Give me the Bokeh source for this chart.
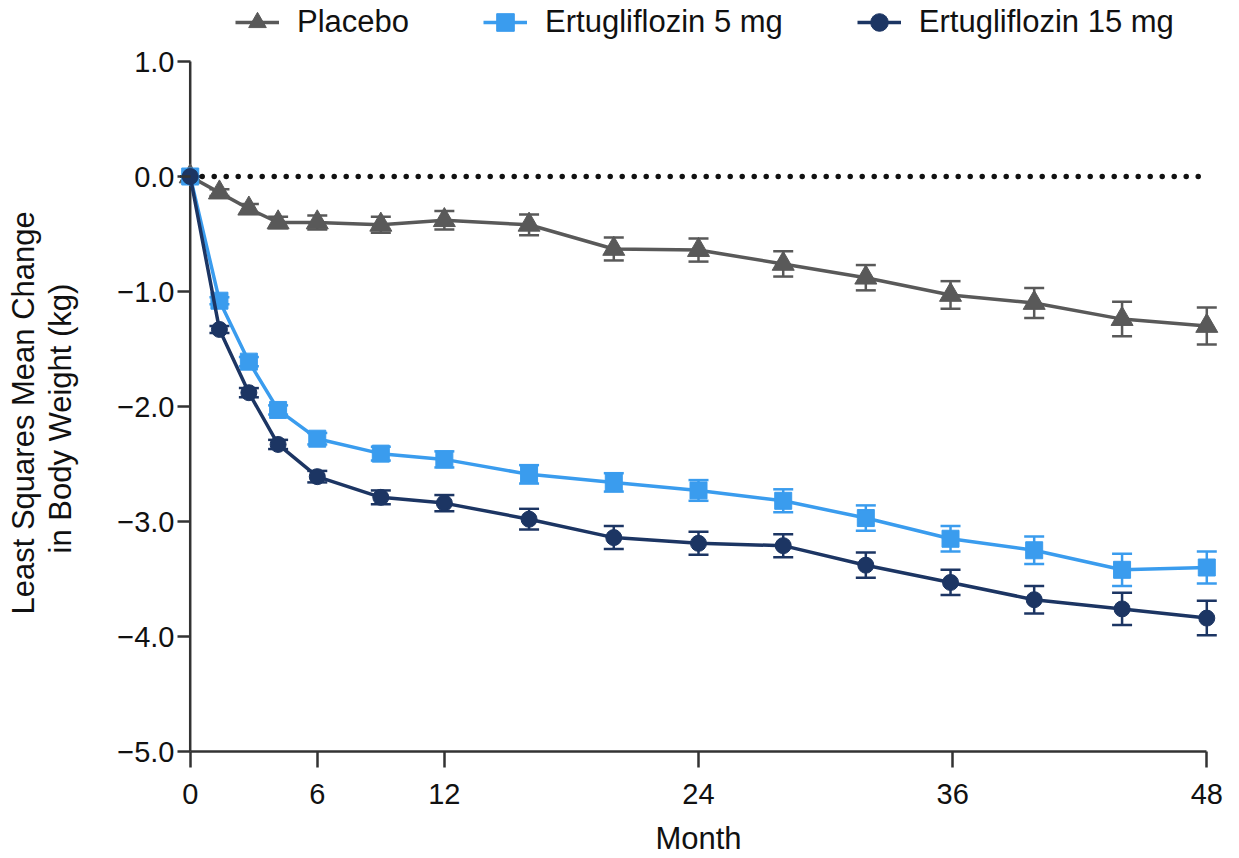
from bokeh.plotting import figure
from bokeh.models import (Range1d, FixedTicker, Whisker, TeeHead, ColumnDataSource,
                          Legend, LegendItem, Title)
from bokeh.embed import file_html
from bokeh.resources import INLINE

# ---- data ----
months = [0, 1.38, 2.77, 4.15, 6, 9, 12, 16, 20, 24, 28, 31.9, 35.9, 39.85, 44, 48]
placebo = [0, -0.14, -0.28, -0.40, -0.40, -0.42, -0.38, -0.42, -0.63, -0.64, -0.76, -0.88, -1.03, -1.10, -1.24, -1.30]
placebo_err = [0, 0.03, 0.04, 0.05, 0.06, 0.07, 0.08, 0.09, 0.10, 0.10, 0.11, 0.11, 0.12, 0.13, 0.15, 0.16]
ertu5 = [0, -1.08, -1.61, -2.03, -2.28, -2.41, -2.46, -2.59, -2.66, -2.73, -2.82, -2.97, -3.15, -3.25, -3.42, -3.40]
ertu5_err = [0, 0.03, 0.04, 0.04, 0.05, 0.06, 0.07, 0.08, 0.08, 0.09, 0.10, 0.11, 0.11, 0.12, 0.14, 0.14]
ertu15 = [0, -1.33, -1.88, -2.33, -2.61, -2.79, -2.84, -2.98, -3.14, -3.19, -3.21, -3.38, -3.53, -3.68, -3.76, -3.84]
ertu15_err = [0, 0.03, 0.04, 0.04, 0.05, 0.06, 0.07, 0.09, 0.10, 0.10, 0.10, 0.11, 0.11, 0.12, 0.14, 0.15]

series_names = ["Placebo", "Ertugliflozin 5 mg", "Ertugliflozin 15 mg"]
series_colors = ["#595959", "#3a9cee", "#1c3563"]
series_markers = ["triangle", "square", "circle"]
series_sizes = [22, 17, 16]

x_ticks = [0, 6, 12, 24, 36, 48]
y_ticks = [-5, -4, -3, -2, -1, 0, 1]
y_tick_labels = ["\u22125.0", "\u22124.0", "\u22123.0", "\u22122.0", "\u22121.0", "0.0", "1.0"]
y_title_lines = ["Least Squares Mean Change", "in Body Weight (kg)"]
x_title = "Month"

FONT = "Liberation Sans"
AXIS_COLOR = "#333333"

# frame reaches the top of the canvas so the legend (drawn inside it) is not clipped
p = figure(width=1239, height=858, x_range=Range1d(-0.6, 48.6),
           y_range=Range1d(-5, 1 + 61 / 115),
           output_backend="svg", toolbar_location=None,
           min_border_left=177, min_border_right=20, min_border_top=0, min_border_bottom=107)
p.outline_line_color = None
p.xgrid.grid_line_color = None
p.ygrid.grid_line_color = None
p.background_fill_color = "white"
p.border_fill_color = "white"

# y axis line at month 0, spanning the axis bounds
p.segment(x0=x_ticks[0], y0=y_ticks[0], x1=x_ticks[0], y1=y_ticks[-1],
          line_color=AXIS_COLOR, line_width=2.5, level="underlay")

# zero reference line
p.line(x=[months[0], months[-1]], y=[0, 0], line_color="#111111", line_width=5.5,
       line_dash="0 12", line_cap="round")

items = []
all_y = [placebo, ertu5, ertu15]
all_err = [placebo_err, ertu5_err, ertu15_err]
for name, col, mk, sz, ys, es in zip(series_names, series_colors, series_markers,
                                      series_sizes, all_y, all_err):
    src = ColumnDataSource(dict(x=months, y=ys,
                                upper=[a + b for a, b in zip(ys, es)],
                                lower=[a - b for a, b in zip(ys, es)]))
    w = Whisker(source=src, base="x", upper="upper", lower="lower",
                line_color=col, line_width=2.5, level="underlay",
                upper_head=TeeHead(size=20, line_color=col, line_width=2.5),
                lower_head=TeeHead(size=20, line_color=col, line_width=2.5))
    p.add_layout(w)
    lr = p.line("x", "y", source=src, line_color=col, line_width=3.5)
    sr = p.scatter("x", "y", source=src, marker=mk, size=sz, fill_color=col,
                   line_color=col, line_width=1)
    items.append(LegendItem(label=name, renderers=[lr, sr]))

legend = Legend(items=items, orientation="horizontal", location=(58, 707),
                glyph_width=44, glyph_height=44, label_height=44,
                label_standoff=18, spacing=74, padding=0, margin=0,
                label_text_font=FONT, label_text_font_size="31px",
                label_text_color="#111111", background_fill_alpha=0,
                border_line_color=None)
p.add_layout(legend)

# axes
for ax in (p.xaxis, p.yaxis):
    ax.axis_line_color = AXIS_COLOR
    ax.axis_line_width = 2.5
    ax.major_tick_line_color = AXIS_COLOR
    ax.major_tick_line_width = 2.5
    ax.minor_tick_line_color = None
    ax.major_label_text_font = FONT
    ax.major_label_text_font_size = "29px"
    ax.major_label_text_color = "#111111"
    ax.axis_label_text_font = FONT
    ax.axis_label_text_font_size = "31px"
    ax.axis_label_text_font_style = "normal"
    ax.axis_label_text_color = "#111111"

p.xaxis.ticker = FixedTicker(ticks=x_ticks)
p.xaxis.bounds = (x_ticks[0], x_ticks[-1])
p.xaxis.axis_label = x_title
p.xaxis.major_tick_out = 16
p.xaxis.major_tick_in = 0
p.xaxis.major_label_standoff = 16
p.xaxis.axis_label_standoff = 14

p.yaxis.ticker = FixedTicker(ticks=y_ticks)
p.yaxis.bounds = (y_ticks[0], y_ticks[-1])
p.yaxis.major_label_overrides = {t: l for t, l in zip(y_ticks, y_tick_labels)}
p.yaxis.axis_line_color = None
p.yaxis.major_tick_out = 0
p.yaxis.major_tick_in = 13
p.yaxis.major_label_standoff = 3
# blank, tiny axis label only reserves the gap between tick labels and the title
p.yaxis.axis_label = " "
p.yaxis.axis_label_text_font_size = "1px"
p.yaxis.axis_label_standoff = 33

# two-line y title, centred on the -5..1 span of the axis
for line, off in ((y_title_lines[1], 198), (y_title_lines[0], 137)):
    t = Title(text=line, align="left", offset=off, standoff=0,
              vertical_align="bottom", text_font=FONT, text_font_size="31px",
              text_font_style="normal", text_color="#111111")
    p.add_layout(t, "left")

open("out.html", "w").write(file_html(p, INLINE))
